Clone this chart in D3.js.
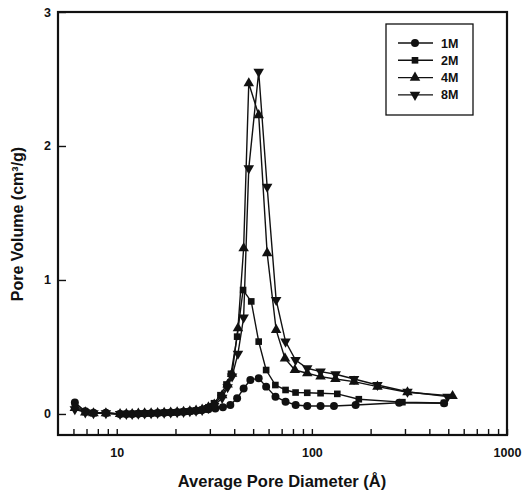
<!DOCTYPE html>
<html>
<head>
<meta charset="utf-8">
<script src="https://cdn.jsdelivr.net/npm/d3@7"></script>
<style>
  body { margin: 0; background: #fff; }
  text { font-family: "Liberation Sans", Arial, sans-serif; font-weight: bold; fill: #111; }
</style>
</head>
<body>
<div id="chart"></div>
<script>
// Pore size distribution, 1M / 2M / 4M / 8M

// data (diameter in Angstrom, pore volume in cm3/g)
var lowDiam = [6.1, 6.9, 7.6, 8.8, 10.4, 11.2, 12.0, 12.9, 13.9, 15.0, 16.2, 17.5, 18.9, 20.4, 22.0, 23.7, 25.5, 27.4];

var diam1M = lowDiam.concat([29.5, 32, 35, 38.2, 41.4, 44.7, 48.4, 53.4, 58.3, 65.1, 73.3, 82.6, 94.7, 110.8, 129.8, 167.6, 280, 476]);
var vol1M = [0.085, 0.02, 0.01, 0.01, 0.0, 0.0, 0.0, 0.002, 0.004, 0.005, 0.007, 0.009, 0.011, 0.013, 0.016, 0.02, 0.024, 0.03,
  0.035, 0.04, 0.05, 0.067, 0.117, 0.19, 0.254, 0.266, 0.204, 0.129, 0.092, 0.067, 0.06, 0.06, 0.06, 0.067, 0.084, 0.08];

var diam2M = lowDiam.concat([29.5, 31.5, 34, 36.5, 38.5, 41.4, 44.4, 48.9, 53.4, 58.3, 65, 73.3, 82.5, 94.7, 110.8, 135, 174, 291, 476]);
var vol2M = [0.065, 0.015, 0.005, 0.005, 0.0, 0.0, 0.0, 0.002, 0.004, 0.005, 0.007, 0.009, 0.011, 0.013, 0.016, 0.02, 0.025, 0.032,
  0.05, 0.08, 0.14, 0.22, 0.30, 0.577, 0.925, 0.84, 0.54, 0.328, 0.216, 0.179, 0.16, 0.158, 0.155, 0.15, 0.11, 0.088, 0.082];

var diam4M = lowDiam.concat([29.5, 31.6, 34.7, 37, 39, 41.8, 44.7, 47.5, 53.4, 59, 65.6, 72.8, 81.8, 94.7, 110.8, 132, 164.5, 216.8, 309, 526]);
var vol4M = [0.045, 0.012, 0.005, 0.005, 0.0, 0.0, 0.0, 0.002, 0.004, 0.005, 0.007, 0.009, 0.011, 0.013, 0.016, 0.02, 0.025, 0.032,
  0.05, 0.07, 0.14, 0.22, 0.30, 0.64, 1.237, 2.468, 2.23, 1.2, 0.627, 0.415, 0.328, 0.304, 0.279, 0.261, 0.241, 0.204, 0.162, 0.134];

var diam8M = lowDiam.concat([29.5, 31.6, 34.7, 37, 39, 41.8, 44.7, 47.5, 53.4, 59, 65.6, 73.3, 82.5, 94.7, 110.8, 132.4, 164.5, 216.8, 309, 496]);
var vol8M = [0.035, 0.012, 0.005, 0.005, 0.0, 0.0, 0.0, 0.002, 0.004, 0.005, 0.007, 0.009, 0.011, 0.013, 0.016, 0.02, 0.025, 0.03,
  0.045, 0.06, 0.12, 0.2, 0.28, 0.45, 0.72, 1.833, 2.554, 1.696, 0.851, 0.54, 0.403, 0.341, 0.316, 0.296, 0.261, 0.216, 0.166, 0.129];

var seriesNames = ["1M", "2M", "4M", "8M"];
var xTickValues = [6, 7, 8, 9, 10, 20, 30, 40, 50, 60, 70, 80, 90, 100, 200, 300, 400, 500, 600, 700, 800, 900, 1000];
var xTickLabels = [10, 100, 1000];
var yTickValues = [0, 1, 2, 3];

// chart set up
var svgWidth = 524;
var svgHeight = 492;
var margin = { top: 12, right: 17, bottom: 57, left: 58 };
var width = svgWidth - margin.left - margin.right;
var height = svgHeight - margin.top - margin.bottom;

var svg = d3.select("#chart")
  .append("svg")
  .attr("width", svgWidth)
  .attr("height", svgHeight)
  .append("g")
  .attr("transform", `translate(${margin.left}, ${margin.top})`);

var x = d3.scaleLog()
  .domain([5, 1000])
  .range([0, width]);

var y = d3.scaleLinear()
  .domain([-0.157, 3])
  .range([height, 0]);

// axes (ticks point inward)
var xAxis = svg.append("g")
  .attr("transform", "translate(0," + height + ")")
  .call(d3.axisBottom(x)
    .tickValues(xTickValues)
    .tickSize(-6)
    .tickPadding(13)
    .tickFormat(d => xTickLabels.indexOf(d) >= 0 ? d : ""));

var yAxis = svg.append("g")
  .call(d3.axisLeft(y)
    .tickValues(yTickValues)
    .tickSize(-8)
    .tickPadding(7)
    .tickFormat(d3.format("d")));

[xAxis, yAxis].forEach(function(a) {
  a.select(".domain").remove();
  a.selectAll(".tick line").attr("stroke", "#111").attr("stroke-width", 1.4);
  a.selectAll("text").attr("font-size", 12.5).attr("font-family", null);
});

// frame
svg.append("rect")
  .attr("x", 0)
  .attr("y", 0)
  .attr("width", width)
  .attr("height", height)
  .attr("fill", "none")
  .attr("stroke", "#111")
  .attr("stroke-width", 2.2);

// axis labels
svg.append("text")
  .attr("x", 224)
  .attr("y", height + 52)
  .attr("text-anchor", "middle")
  .attr("font-size", 16.5)
  .text("Average Pore Diameter (Å)");

svg.append("text")
  .attr("transform", "rotate(-90)")
  .attr("x", -212)
  .attr("y", -35)
  .attr("text-anchor", "middle")
  .attr("font-size", 16)
  .text("Pore Volume (cm³/g)");

// series
var symbols = [d3.symbolCircle, d3.symbolSquare, d3.symbolTriangle, d3.symbolTriangle];
var symbolSizes = [50, 44, 48, 48];
var rotations = [0, 0, 0, 180];
var diams = [diam1M, diam2M, diam4M, diam8M];
var vols = [vol1M, vol2M, vol4M, vol8M];

var line = d3.line()
  .x(d => x(d[0]))
  .y(d => y(d[1]));

seriesNames.forEach(function(name, i) {
  var pts = diams[i].map((d, j) => [d, vols[i][j]]);

  svg.append("path")
    .datum(pts)
    .attr("fill", "none")
    .attr("stroke", "#111")
    .attr("stroke-width", 1.4)
    .attr("d", line);

  svg.selectAll(".pt" + i)
    .data(pts)
    .enter()
    .append("path")
    .attr("class", "pt" + i)
    .attr("d", d3.symbol().type(symbols[i]).size(symbolSizes[i]))
    .attr("transform", d => `translate(${x(d[0])},${y(d[1])}) rotate(${rotations[i]})`)
    .attr("fill", "#111");
});

// legend
var legend = svg.append("g")
  .attr("transform", "translate(328, 12)");

legend.append("rect")
  .attr("width", 87)
  .attr("height", 91)
  .attr("fill", "#fff")
  .attr("stroke", "#111")
  .attr("stroke-width", 1.3);

seriesNames.forEach(function(name, i) {
  var ly = 19 + i * 17.3;
  legend.append("line")
    .attr("x1", 12)
    .attr("x2", 47)
    .attr("y1", ly)
    .attr("y2", ly)
    .attr("stroke", "#111")
    .attr("stroke-width", 1.4);
  legend.append("path")
    .attr("d", d3.symbol().type(symbols[i]).size(symbolSizes[i]))
    .attr("transform", `translate(29,${ly}) rotate(${rotations[i]})`)
    .attr("fill", "#111");
  legend.append("text")
    .attr("x", 55)
    .attr("y", ly + 4.5)
    .attr("font-size", 12.5)
    .text(name);
});
</script>
</body>
</html>
